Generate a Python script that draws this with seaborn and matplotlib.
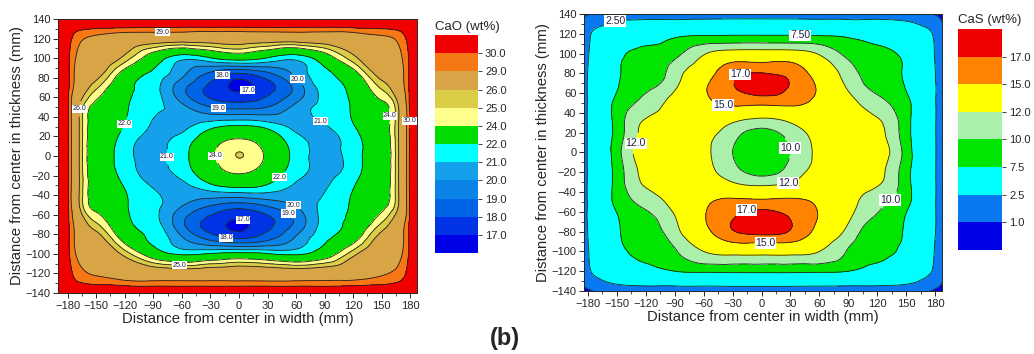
import numpy as np
import matplotlib
matplotlib.use("Agg")
import matplotlib.pyplot as plt
import matplotlib.tri as mtri
import seaborn as sns

sns.set_theme(style="ticks")
plt.rcParams['font.family'] = ['Liberation Sans', 'DejaVu Sans']

# grid positions (mm) at which the two maps were read
x_mm = [-190, -180, -170, -150, -120, -90, -60, -30, 0, 30, 60, 90, 120, 150, 170, 180, 190]
y_mm = [140, 132, 120, 100, 85, 68, 50, 30, 15, 0, -15, -30, -50, -68, -85, -100, -120, -132, -140]

cao = [
    [31.5, 31.5, 31.5, 31.5, 31.5, 31.5, 31.5, 31.5, 31.5, 31.5, 31.5, 31.5, 31.5, 31.5, 31.5, 31.5, 31.5],
    [31.5, 30.8, 30.5, 30.3, 30.2, 30.1, 30.1, 30.1, 30.1, 30.1, 30.1, 30.1, 30.2, 30.3, 30.5, 30.8, 31.5],
    [31.5, 30.5, 29.5, 28.6, 27.8, 27.4, 27.2, 27.2, 27.3, 27.2, 27.2, 27.4, 27.8, 28.6, 29.5, 30.5, 31.5],
    [31.5, 30.3, 28.8, 27.5, 25.6, 23.0, 21.3, 21.9, 22.6, 21.9, 21.3, 23.0, 25.6, 27.5, 28.8, 30.3, 31.5],
    [31.5, 30.3, 28.5, 26.8, 23.4, 21.8, 20.3, 18.9, 18.1, 18.9, 20.3, 21.8, 23.4, 26.8, 28.5, 30.3, 31.5],
    [31.5, 30.3, 28.0, 25.0, 22.4, 21.4, 19.3, 17.7, 16.85, 17.7, 19.3, 21.4, 22.4, 25.0, 28.0, 30.3, 31.5],
    [31.5, 30.3, 26.8, 23.6, 22.2, 21.25, 20.3, 19.0, 18.7, 19.0, 20.3, 21.25, 22.2, 23.6, 26.8, 30.3, 31.5],
    [31.5, 30.3, 26.8, 23.3, 21.9, 20.92, 20.8, 21.7, 22.2, 21.7, 20.8, 20.92, 21.9, 23.3, 26.8, 30.3, 31.5],
    [31.5, 30.3, 26.8, 23.1, 21.5, 20.8, 21.4, 23.2, 24.3, 23.2, 21.4, 20.8, 21.5, 23.1, 26.8, 30.3, 31.5],
    [31.5, 30.3, 26.8, 23.0, 21.4, 20.75, 21.6, 23.6, 25.03, 23.7, 21.6, 20.7, 21.5, 23.0, 26.8, 30.3, 31.5],
    [31.5, 30.3, 26.8, 23.1, 21.5, 20.8, 21.4, 23.2, 24.3, 23.2, 21.4, 20.8, 21.5, 23.1, 26.8, 30.3, 31.5],
    [31.5, 30.3, 26.8, 23.3, 21.9, 20.92, 20.8, 21.8, 22.4, 21.9, 20.9, 20.92, 21.9, 23.3, 26.8, 30.3, 31.5],
    [31.5, 30.3, 26.8, 23.6, 22.2, 21.25, 20.1, 19.1, 18.6, 19.2, 20.1, 21.25, 22.2, 23.6, 26.8, 30.3, 31.5],
    [31.5, 30.3, 28.0, 25.0, 22.4, 21.4, 19.2, 17.6, 16.85, 17.7, 19.2, 21.4, 22.4, 25.0, 28.0, 30.3, 31.5],
    [31.5, 30.3, 28.5, 26.8, 23.4, 21.8, 20.2, 18.8, 18.1, 18.8, 20.2, 21.8, 23.4, 26.8, 28.5, 30.3, 31.5],
    [31.5, 30.3, 28.8, 27.5, 25.6, 23.0, 21.8, 22.1, 22.4, 22.1, 21.8, 23.0, 25.6, 27.5, 28.8, 30.3, 31.5],
    [31.5, 30.5, 29.6, 28.8, 28.0, 27.6, 27.4, 27.5, 27.6, 27.5, 27.4, 27.6, 28.0, 28.8, 29.6, 30.5, 31.5],
    [31.5, 30.8, 30.4, 30.1, 29.9, 29.8, 29.8, 29.8, 29.8, 29.8, 29.8, 29.8, 29.9, 30.1, 30.4, 30.8, 31.5],
    [31.5, 31.5, 31.5, 31.5, 31.5, 31.5, 31.5, 31.5, 31.5, 31.5, 31.5, 31.5, 31.5, 31.5, 31.5, 31.5, 31.5],
]

cas = [
    [0.5, 0.9, 1.2, 1.3, 1.3, 1.3, 1.3, 1.3, 1.3, 1.3, 1.3, 1.3, 1.3, 1.3, 1.2, 0.9, 0.5],
    [0.7, 1.6, 2.0, 2.6, 3.0, 3.1, 3.2, 3.3, 3.3, 3.3, 3.2, 3.1, 3.0, 2.6, 2.0, 1.6, 0.7],
    [0.8, 2.2, 2.9, 3.8, 5.3, 6.6, 6.9, 7.0, 7.0, 7.0, 6.9, 6.6, 5.3, 3.8, 2.9, 2.2, 0.8],
    [0.8, 2.4, 3.3, 6.3, 8.3, 9.4, 11.8, 13.0, 13.0, 13.0, 11.8, 9.4, 8.3, 6.3, 3.3, 2.4, 0.8],
    [0.8, 2.5, 3.6, 7.0, 8.3, 10.8, 13.4, 16.0, 16.2, 16.0, 13.4, 10.8, 8.3, 7.0, 3.6, 2.5, 0.8],
    [0.8, 2.6, 4.0, 7.2, 9.3, 11.6, 14.6, 16.9, 18.0, 16.9, 14.6, 11.6, 9.3, 7.2, 4.0, 2.6, 0.8],
    [0.8, 2.6, 4.6, 8.2, 10.7, 12.8, 14.4, 15.5, 15.5, 15.5, 14.4, 12.8, 10.7, 8.2, 4.6, 2.6, 0.8],
    [0.8, 2.6, 4.3, 8.5, 12.3, 13.0, 13.3, 12.0, 11.0, 12.0, 13.3, 13.0, 12.3, 8.5, 4.3, 2.6, 0.8],
    [0.8, 2.6, 4.3, 8.6, 12.7, 13.4, 12.6, 10.5, 8.8, 10.5, 12.6, 13.4, 12.7, 8.6, 4.3, 2.6, 0.8],
    [0.8, 2.6, 4.2, 9.0, 13.0, 13.5, 12.5, 10.0, 8.2, 10.0, 12.5, 13.5, 13.0, 9.0, 4.2, 2.6, 0.8],
    [0.8, 2.6, 4.3, 8.6, 12.7, 13.4, 12.6, 10.5, 8.8, 10.5, 12.6, 13.4, 12.7, 8.6, 4.3, 2.6, 0.8],
    [0.8, 2.6, 4.3, 8.5, 12.3, 13.0, 13.3, 12.0, 11.2, 12.0, 13.3, 13.0, 12.3, 8.5, 4.3, 2.6, 0.8],
    [0.8, 2.6, 4.6, 8.2, 10.7, 12.8, 14.6, 15.6, 15.6, 15.6, 14.6, 12.8, 10.7, 8.2, 4.6, 2.6, 0.8],
    [0.8, 2.6, 4.0, 7.2, 9.3, 11.8, 14.8, 17.0, 18.1, 17.0, 14.8, 12.2, 9.5, 7.2, 4.0, 2.6, 0.8],
    [0.8, 2.5, 3.6, 7.0, 8.4, 11.0, 13.8, 16.2, 16.6, 16.2, 13.8, 11.0, 8.4, 7.0, 3.6, 2.5, 0.8],
    [0.8, 2.4, 3.3, 6.2, 8.4, 9.8, 12.0, 12.8, 12.8, 12.8, 12.0, 9.8, 8.4, 6.2, 3.3, 2.4, 0.8],
    [0.8, 2.2, 2.9, 4.2, 6.0, 7.5, 7.9, 8.0, 8.0, 8.0, 7.9, 7.5, 6.0, 4.2, 2.9, 2.2, 0.8],
    [0.7, 1.5, 2.0, 2.7, 3.2, 3.4, 3.5, 3.6, 3.6, 3.6, 3.5, 3.4, 3.2, 2.7, 2.0, 1.5, 0.7],
    [0.4, 0.8, 1.1, 1.2, 1.2, 1.2, 1.2, 1.2, 1.2, 1.2, 1.2, 1.2, 1.2, 1.2, 1.1, 0.8, 0.4],
]

cao_levels = [17, 18, 19, 20, 21, 22, 24, 25, 26, 29, 30]
cas_levels = [1.0, 2.5, 7.5, 10.0, 12.0, 15.0, 17.0]

cao_colors = ['#0000E6', '#0032E6', '#0064E6', '#0A82E6', '#14A0EB', '#00FFFF',
              '#00DC00', '#FFFF8C', '#DCCD46', '#D7A546', '#F57814', '#F00000']
cas_colors = ['#0000E6', '#0A78F0', '#00FFFF', '#00E600', '#AAF0AA',
              '#FFFF00', '#FF8200', '#F00000']

# labelled lines on the original maps: level and where its label sits
cao_label_lv = [29, 18, 20, 17, 26, 19, 22, 21, 24, 30, 21, 24, 22, 20, 19, 17, 18, 25]
cao_label_pos = [(-80, 128), (-17, 82), (58, 75), (10, 66), (-165, 48), (-22, 45),
                 (-121, 33), (88, 40), (150, 40), (178, 36), (-83, 0), (-26, 0),
                 (41, -20), (62, -41), (51, -60), (4, -66), (-14, -86), (-63, -116)]
cas_label_lv = [2.5, 7.5, 17.0, 15.0, 12.0, 10.0, 12.0, 10.0, 17.0, 15.0]
cas_label_pos = [(-151, 130), (40, 120), (-20, 75), (-40, 47), (-130, 9), (30, 5),
                 (28, -31), (131, -46), (-15, -62), (4, -94)]


def smooth_field(xs, ys, grid):
    X, Y = np.meshgrid(xs, ys)
    idx = np.arange(len(xs) * len(ys)).reshape(len(ys), len(xs))
    a = idx[:-1, :-1].ravel()
    b = idx[:-1, 1:].ravel()
    c = idx[1:, 1:].ravel()
    d = idx[1:, :-1].ravel()
    tris = np.concatenate([np.column_stack([a, b, c]), np.column_stack([a, c, d])])
    tri = mtri.Triangulation(X.ravel(), Y.ravel(), tris)
    refiner = mtri.UniformTriRefiner(tri)
    return refiner.refine_field(np.asarray(grid, float).ravel(), subdiv=4)


def draw_map(ax, cax, grid, levels, colors, lo, hi, label_lv, label_pos, fmt, label_size, xlim):
    tri_f, z_f = smooth_field(x_mm, y_mm, grid)
    all_levels = [lo] + levels + [hi]
    cf = ax.tricontourf(tri_f, z_f, levels=all_levels, colors=sns.color_palette(colors))

    # one line set per level so each label lands on its own level
    for lv in levels:
        cs = ax.tricontour(tri_f, z_f, levels=[lv], colors='#202020', linewidths=0.6)
        spots = [p for l, p in zip(label_lv, label_pos) if l == lv]
        if not spots:
            continue
        texts = ax.clabel(cs, manual=spots, fmt=fmt, fontsize=label_size,
                          inline=True, inline_spacing=1)
        for t in texts:
            t.set_rotation(0)
            t.set_bbox(dict(boxstyle='square,pad=0.08', fc='white', ec='none'))
            t.set_color('#202040')

    ax.set_xlim(*xlim)
    ax.set_ylim(-140, 140)
    ax.set_xticks(range(-180, 181, 30))
    ax.set_xticks(range(-180, 181, 15), minor=True)
    ax.set_yticks(range(-140, 141, 20))
    ax.set_yticks(range(-140, 141, 10), minor=True)
    ax.tick_params(which='major', direction='out', length=3.5, width=0.7, labelsize=8, pad=2)
    ax.tick_params(which='minor', direction='out', length=2, width=0.6)
    ax.set_xlabel('Distance from center in width (mm)', fontsize=10.7, labelpad=1)
    ax.set_ylabel('Distance from center in thickness (mm)', fontsize=10.7, labelpad=1)
    for sp in ax.spines.values():
        sp.set_linewidth(0.7)

    cb = ax.figure.colorbar(cf, cax=cax, spacing='uniform', ticks=levels)
    cb.ax.set_yticklabels([f'{v:.1f}' for v in levels])
    cb.ax.tick_params(labelsize=8, length=3, width=0.6, pad=2)
    cb.outline.set_visible(False)


fig = plt.figure(figsize=(10.34, 3.54), dpi=100)
fig.patch.set_facecolor('white')

ax1 = fig.add_axes([0.0561, 0.1723, 0.3472, 0.7740])
cax1 = fig.add_axes([0.4207, 0.2850, 0.0416, 0.6160])
ax2 = fig.add_axes([0.5648, 0.1780, 0.3462, 0.7825])
cax2 = fig.add_axes([0.9265, 0.2940, 0.0426, 0.6240])

draw_map(ax1, cax1, cao, cao_levels, cao_colors, 0, 40, cao_label_lv, cao_label_pos,
         lambda v: f'{v:.1f}', 5, (-190, 187))
draw_map(ax2, cax2, cas, cas_levels, cas_colors, 0, 25, cas_label_lv, cas_label_pos,
         lambda v: f'{v:.2f}' if v < 10 else f'{v:.1f}', 7.5, (-184, 187))

fig.text(0.4516, 0.924, 'CaO (wt%)', fontsize=9.5, ha='center', va='center')
fig.text(0.9575, 0.9435, 'CaS (wt%)', fontsize=9.5, ha='center', va='center')
fig.text(0.488, 0.045, '(b)', fontsize=17, fontweight='bold', ha='center', va='center')

fig.savefig('out.png', dpi=100)
